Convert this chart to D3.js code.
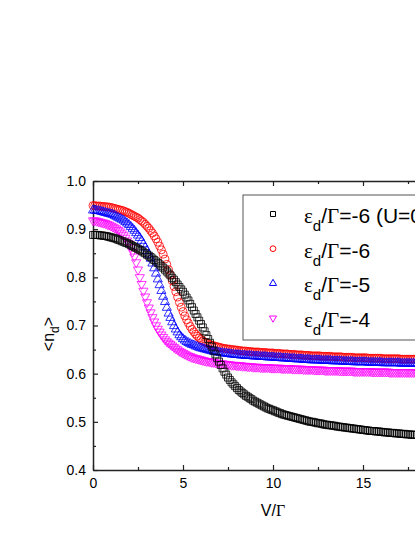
<!DOCTYPE html>
<html lang="en">

<head>
    <meta charset="UTF-8">
    <title>Occupation vs bias</title>
    <script src="https://cdnjs.cloudflare.com/ajax/libs/d3/7.8.5/d3.min.js"></script>
    <style>
        body { margin: 0; background: #fff; overflow: hidden; }
        svg { display: block; }
        .tick text { font-family: Arial, "Liberation Sans", sans-serif; font-size: 14px; fill: #000; }
        .domain { stroke: #222; stroke-width: 1.5px; }
        .tick line { stroke: #222; stroke-width: 1.2px; }
    </style>
</head>

<body>
    <svg id="chart" width="415" height="537"></svg>

    <script>
        // bias grid V/Gamma
        var vGrid = [0, 0.1, 0.2, 0.3, 0.4, 0.5, 0.6, 0.7, 0.8, 0.9,
            1, 1.1, 1.2, 1.3, 1.4, 1.5, 1.6, 1.7, 1.8, 1.9,
            2, 2.1, 2.2, 2.3, 2.4, 2.5, 2.6, 2.7, 2.8, 2.9,
            3, 3.1, 3.2, 3.3, 3.4, 3.5, 3.6, 3.7, 3.8, 3.9,
            4, 4.1, 4.2, 4.3, 4.4, 4.5, 4.6, 4.7, 4.8, 4.9,
            5, 5.1, 5.2, 5.3, 5.4, 5.5, 5.6, 5.7, 5.8, 5.9,
            6, 6.1, 6.2, 6.3, 6.4, 6.5, 6.6, 6.7, 6.8, 6.9,
            7, 7.1, 7.2, 7.3, 7.4, 7.5, 7.6, 7.7, 7.8, 7.9,
            8, 8.1, 8.2, 8.3, 8.4, 8.5, 8.6, 8.7, 8.8, 8.9,
            9, 9.1, 9.2, 9.3, 9.4, 9.5, 9.6, 9.7, 9.8, 9.9,
            10, 10.1, 10.2, 10.3, 10.4, 10.5, 10.6, 10.7, 10.8, 10.9,
            11, 11.1, 11.2, 11.3, 11.4, 11.5, 11.6, 11.7, 11.8, 11.9,
            12, 12.1, 12.2, 12.3, 12.4, 12.5, 12.6, 12.7, 12.8, 12.9,
            13, 13.1, 13.2, 13.3, 13.4, 13.5, 13.6, 13.7, 13.8, 13.9,
            14, 14.1, 14.2, 14.3, 14.4, 14.5, 14.6, 14.7, 14.8, 14.9,
            15, 15.1, 15.2, 15.3, 15.4, 15.5, 15.6, 15.7, 15.8, 15.9,
            16, 16.1, 16.2, 16.3, 16.4, 16.5, 16.6, 16.7, 16.8, 16.9,
            17, 17.1, 17.2, 17.3, 17.4, 17.5, 17.6, 17.7, 17.8, 17.9,
            18, 18.1, 18.2, 18.3, 18.4, 18.5, 18.6, 18.7, 18.8, 18.9,
            19, 19.1, 19.2, 19.3, 19.4, 19.5, 19.6, 19.7, 19.8, 19.9,
            20];

        // eps_d/Gamma = -6, U = 0
        var nU0 = [0.888, 0.888, 0.888, 0.888, 0.887, 0.887, 0.886, 0.886, 0.885, 0.884,
            0.883, 0.882, 0.881, 0.880, 0.878, 0.877, 0.875, 0.874, 0.872, 0.871,
            0.869, 0.867, 0.865, 0.863, 0.861, 0.859, 0.857, 0.855, 0.852, 0.850,
            0.847, 0.845, 0.842, 0.839, 0.836, 0.833, 0.830, 0.827, 0.823, 0.820,
            0.816, 0.812, 0.808, 0.804, 0.799, 0.795, 0.790, 0.785, 0.780, 0.775,
            0.770, 0.764, 0.758, 0.752, 0.745, 0.738, 0.731, 0.724, 0.717, 0.710,
            0.703, 0.696, 0.688, 0.680, 0.672, 0.664, 0.656, 0.648, 0.640, 0.632,
            0.625, 0.618, 0.611, 0.604, 0.598, 0.592, 0.587, 0.582, 0.578, 0.574,
            0.570, 0.566, 0.563, 0.560, 0.557, 0.554, 0.552, 0.549, 0.547, 0.544,
            0.542, 0.540, 0.538, 0.536, 0.534, 0.532, 0.530, 0.528, 0.527, 0.525,
            0.524, 0.522, 0.521, 0.519, 0.518, 0.516, 0.515, 0.514, 0.513, 0.512,
            0.511, 0.510, 0.509, 0.508, 0.507, 0.506, 0.505, 0.504, 0.503, 0.502,
            0.501, 0.500, 0.500, 0.499, 0.498, 0.497, 0.497, 0.496, 0.495, 0.494,
            0.494, 0.493, 0.493, 0.492, 0.492, 0.491, 0.490, 0.490, 0.489, 0.489,
            0.488, 0.488, 0.487, 0.487, 0.486, 0.486, 0.485, 0.485, 0.484, 0.484,
            0.483, 0.483, 0.482, 0.482, 0.481, 0.481, 0.481, 0.480, 0.480, 0.480,
            0.479, 0.479, 0.478, 0.478, 0.478, 0.477, 0.477, 0.477, 0.476, 0.476,
            0.476, 0.475, 0.475, 0.475, 0.474, 0.474, 0.474, 0.473, 0.473, 0.473,
            0.473, 0.472, 0.472, 0.472, 0.472, 0.471, 0.471, 0.471, 0.470, 0.470,
            0.470, 0.470, 0.469, 0.469, 0.469, 0.469, 0.468, 0.468, 0.468, 0.468,
            0.467];

        // eps_d/Gamma = -6
        var nE6 = [0.949, 0.949, 0.948, 0.948, 0.948, 0.947, 0.947, 0.947, 0.946, 0.946,
            0.945, 0.944, 0.943, 0.942, 0.941, 0.940, 0.939, 0.938, 0.936, 0.935,
            0.933, 0.931, 0.929, 0.927, 0.925, 0.923, 0.920, 0.917, 0.914, 0.910,
            0.906, 0.902, 0.897, 0.892, 0.886, 0.880, 0.873, 0.865, 0.857, 0.848,
            0.838, 0.827, 0.816, 0.805, 0.793, 0.781, 0.770, 0.759, 0.748, 0.738,
            0.729, 0.720, 0.712, 0.705, 0.698, 0.692, 0.687, 0.682, 0.678, 0.674,
            0.671, 0.668, 0.666, 0.664, 0.662, 0.660, 0.659, 0.658, 0.657, 0.656,
            0.655, 0.654, 0.653, 0.652, 0.652, 0.651, 0.651, 0.650, 0.650, 0.649,
            0.649, 0.648, 0.648, 0.647, 0.647, 0.647, 0.646, 0.646, 0.646, 0.645,
            0.645, 0.645, 0.645, 0.644, 0.644, 0.644, 0.644, 0.643, 0.643, 0.643,
            0.643, 0.642, 0.642, 0.642, 0.642, 0.641, 0.641, 0.641, 0.641, 0.640,
            0.640, 0.640, 0.640, 0.639, 0.639, 0.639, 0.639, 0.638, 0.638, 0.638,
            0.638, 0.637, 0.637, 0.637, 0.637, 0.637, 0.637, 0.636, 0.636, 0.636,
            0.636, 0.636, 0.636, 0.635, 0.635, 0.635, 0.635, 0.635, 0.635, 0.634,
            0.634, 0.634, 0.634, 0.634, 0.634, 0.633, 0.633, 0.633, 0.633, 0.633,
            0.633, 0.633, 0.633, 0.632, 0.632, 0.632, 0.632, 0.632, 0.632, 0.632,
            0.632, 0.631, 0.631, 0.631, 0.631, 0.631, 0.631, 0.631, 0.631, 0.631,
            0.631, 0.630, 0.630, 0.630, 0.630, 0.630, 0.630, 0.630, 0.630, 0.630,
            0.630, 0.629, 0.629, 0.629, 0.629, 0.629, 0.629, 0.629, 0.629, 0.629,
            0.629, 0.629, 0.629, 0.628, 0.628, 0.628, 0.628, 0.628, 0.628, 0.628,
            0.628];

        // eps_d/Gamma = -5
        var nE5 = [0.939, 0.939, 0.938, 0.938, 0.937, 0.936, 0.935, 0.934, 0.933, 0.932,
            0.931, 0.930, 0.928, 0.926, 0.924, 0.922, 0.920, 0.918, 0.915, 0.912,
            0.909, 0.905, 0.901, 0.897, 0.892, 0.887, 0.882, 0.876, 0.869, 0.862,
            0.855, 0.847, 0.839, 0.829, 0.819, 0.808, 0.796, 0.784, 0.772, 0.760,
            0.749, 0.737, 0.725, 0.716, 0.707, 0.699, 0.692, 0.686, 0.680, 0.676,
            0.672, 0.669, 0.666, 0.664, 0.662, 0.660, 0.659, 0.657, 0.656, 0.654,
            0.653, 0.652, 0.651, 0.650, 0.649, 0.648, 0.647, 0.646, 0.645, 0.645,
            0.644, 0.643, 0.643, 0.642, 0.642, 0.641, 0.641, 0.640, 0.640, 0.639,
            0.639, 0.639, 0.638, 0.638, 0.638, 0.637, 0.637, 0.637, 0.637, 0.636,
            0.636, 0.636, 0.636, 0.635, 0.635, 0.635, 0.635, 0.634, 0.634, 0.634,
            0.634, 0.633, 0.633, 0.633, 0.633, 0.632, 0.632, 0.632, 0.632, 0.631,
            0.631, 0.631, 0.631, 0.630, 0.630, 0.630, 0.630, 0.629, 0.629, 0.629,
            0.629, 0.628, 0.628, 0.628, 0.628, 0.628, 0.628, 0.627, 0.627, 0.627,
            0.627, 0.627, 0.627, 0.626, 0.626, 0.626, 0.626, 0.626, 0.626, 0.625,
            0.625, 0.625, 0.625, 0.625, 0.625, 0.624, 0.624, 0.624, 0.624, 0.624,
            0.624, 0.624, 0.624, 0.623, 0.623, 0.623, 0.623, 0.623, 0.623, 0.623,
            0.623, 0.622, 0.622, 0.622, 0.622, 0.622, 0.622, 0.622, 0.622, 0.622,
            0.622, 0.621, 0.621, 0.621, 0.621, 0.621, 0.621, 0.621, 0.621, 0.621,
            0.621, 0.620, 0.620, 0.620, 0.620, 0.620, 0.620, 0.620, 0.620, 0.620,
            0.620, 0.620, 0.620, 0.619, 0.619, 0.619, 0.619, 0.619, 0.619, 0.619,
            0.619];

        // eps_d/Gamma = -4
        var nE4 = [0.918, 0.918, 0.917, 0.916, 0.915, 0.914, 0.913, 0.912, 0.910, 0.909,
            0.907, 0.905, 0.903, 0.901, 0.898, 0.895, 0.891, 0.887, 0.882, 0.876,
            0.870, 0.862, 0.853, 0.843, 0.831, 0.816, 0.800, 0.786, 0.772, 0.760,
            0.748, 0.737, 0.727, 0.717, 0.708, 0.700, 0.693, 0.687, 0.681, 0.676,
            0.671, 0.667, 0.664, 0.661, 0.658, 0.655, 0.652, 0.650, 0.647, 0.645,
            0.643, 0.641, 0.639, 0.637, 0.636, 0.634, 0.633, 0.632, 0.631, 0.630,
            0.629, 0.628, 0.627, 0.626, 0.626, 0.625, 0.624, 0.624, 0.623, 0.622,
            0.622, 0.621, 0.621, 0.620, 0.620, 0.619, 0.619, 0.618, 0.618, 0.618,
            0.617, 0.617, 0.617, 0.616, 0.616, 0.616, 0.615, 0.615, 0.615, 0.614,
            0.614, 0.614, 0.614, 0.613, 0.613, 0.613, 0.613, 0.613, 0.613, 0.612,
            0.612, 0.612, 0.612, 0.612, 0.612, 0.611, 0.611, 0.611, 0.611, 0.611,
            0.611, 0.610, 0.610, 0.610, 0.610, 0.610, 0.610, 0.609, 0.609, 0.609,
            0.609, 0.609, 0.609, 0.608, 0.608, 0.608, 0.608, 0.608, 0.608, 0.607,
            0.607, 0.607, 0.607, 0.607, 0.607, 0.607, 0.607, 0.606, 0.606, 0.606,
            0.606, 0.606, 0.606, 0.606, 0.606, 0.605, 0.605, 0.605, 0.605, 0.605,
            0.605, 0.605, 0.605, 0.605, 0.605, 0.604, 0.604, 0.604, 0.604, 0.604,
            0.604, 0.604, 0.604, 0.604, 0.604, 0.603, 0.603, 0.603, 0.603, 0.603,
            0.603, 0.603, 0.603, 0.603, 0.603, 0.603, 0.603, 0.603, 0.603, 0.603,
            0.602, 0.602, 0.602, 0.602, 0.602, 0.602, 0.602, 0.602, 0.602, 0.602,
            0.602, 0.602, 0.601, 0.601, 0.601, 0.601, 0.601, 0.601, 0.601, 0.601,
            0.601];

        var xTicks = [0, 5, 10, 15, 20],
            xLabels = [0, 5, 10, 15],
            xMinor = [2.5, 7.5, 12.5, 17.5],
            yTicks = [0.4, 0.5, 0.6, 0.7, 0.8, 0.9, 1.0],
            yMinor = [0.45, 0.55, 0.65, 0.75, 0.85, 0.95],
            legendLabels = ["-6 (U=0)", "-6", "-5", "-4"];

        var svg = d3.select("#chart"),
            margin = { top: 181, right: -38, bottom: 67, left: 93 },
            width = +svg.attr("width") - margin.left - margin.right,
            height = +svg.attr("height") - margin.top - margin.bottom,
            g = svg.append("g").attr("transform", "translate(" + margin.left + "," + margin.top + ")"),
            serif = "'Liberation Serif', 'Times New Roman', serif",
            sans = "Arial, 'Liberation Sans', sans-serif";

        var x = d3.scaleLinear().domain([0, 20]).range([0, width]);
        var y = d3.scaleLinear().domain([0.4, 1.0]).range([height, 0]);

        // series: draw order keeps the black squares on top
        var series = [
            { values: nE6, color: "#ff0000", type: d3.symbolCircle, size: 50, rot: 0, legendSize: 26, row: 1 },
            { values: nE5, color: "#0000ff", type: d3.symbolTriangle, size: 36, rot: 0, legendSize: 22, row: 2 },
            { values: nE4, color: "#ff00ff", type: d3.symbolTriangle, size: 36, rot: 180, legendSize: 22, row: 3 },
            { values: nU0, color: "#000000", type: d3.symbolSquare, size: 49, rot: 0, legendSize: 25, row: 0 }
        ];

        // axes (ticks point inward)
        g.append("g")
            .attr("transform", "translate(0," + height + ")")
            .call(d3.axisBottom(x).tickValues(xTicks).tickSizeInner(-5).tickSizeOuter(0).tickPadding(8)
                .tickFormat(function (d) { return xLabels.indexOf(d) >= 0 ? d : ""; }));

        g.append("g")
            .attr("transform", "translate(0," + height + ")")
            .call(d3.axisBottom(x).tickValues(xMinor).tickSizeInner(-3).tickSizeOuter(0).tickFormat(""))
            .select(".domain").remove();

        g.append("g")
            .call(d3.axisTop(x).tickValues(xTicks).tickSizeInner(-5).tickSizeOuter(0).tickFormat(""));

        g.append("g")
            .call(d3.axisTop(x).tickValues(xMinor).tickSizeInner(-3).tickSizeOuter(0).tickFormat(""))
            .select(".domain").remove();

        g.append("g")
            .call(d3.axisLeft(y).tickValues(yTicks).tickSizeInner(-5).tickSizeOuter(0).tickPadding(7)
                .tickFormat(d3.format(".1f")));

        g.append("g")
            .call(d3.axisLeft(y).tickValues(yMinor).tickSizeInner(-3).tickSizeOuter(0).tickFormat(""))
            .select(".domain").remove();

        // markers
        series.forEach(function (s) {
            var sym = d3.symbol().type(s.type).size(s.size);
            g.append("g")
                .selectAll("path")
                .data(vGrid)
                .enter().append("path")
                .attr("d", sym)
                .attr("transform", function (d, i) {
                    return "translate(" + x(d) + "," + y(s.values[i]) + ") rotate(" + s.rot + ")";
                })
                .attr("fill", "none")
                .attr("stroke", s.color)
                .attr("stroke-width", 0.8);
        });

        // legend
        var legend = svg.append("g").attr("transform", "translate(243,195)");

        legend.append("rect")
            .attr("width", 230)
            .attr("height", 145)
            .attr("fill", "#fff")
            .attr("stroke", "#555")
            .attr("stroke-width", 1);

        series.forEach(function (s) {
            var row = legend.append("g")
                .attr("transform", "translate(0," + (19 + s.row * 34.7) + ")");

            row.append("path")
                .attr("d", d3.symbol().type(s.type).size(s.legendSize))
                .attr("transform", "translate(30,0) rotate(" + s.rot + ")")
                .attr("fill", "none")
                .attr("stroke", s.color)
                .attr("stroke-width", 1);

            var t = row.append("text")
                .attr("x", 61)
                .attr("y", 9)
                .attr("font-size", 21)
                .attr("font-family", sans)
                .attr("fill", "#000");
            t.append("tspan").attr("font-family", serif).text("\u03b5");
            t.append("tspan").attr("font-size", 15).attr("dy", 8).text("d");
            t.append("tspan").attr("dy", -8).text("/");
            t.append("tspan").attr("font-family", serif).text("\u0393");
            t.append("tspan").text("=" + legendLabels[s.row]);
        });

        // axis titles
        var xt = svg.append("text")
            .attr("x", margin.left + width / 2)
            .attr("y", 516)
            .attr("text-anchor", "middle")
            .attr("font-size", 16)
            .attr("font-family", sans);
        xt.append("tspan").text("V/");
        xt.append("tspan").attr("font-family", serif).text("\u0393");

        var yt = svg.append("text")
            .attr("transform", "translate(54,334) rotate(-90)")
            .attr("text-anchor", "middle")
            .attr("font-size", 16)
            .attr("font-family", sans);
        yt.append("tspan").text("<n");
        yt.append("tspan").attr("font-size", 12).attr("dy", 5).text("d");
        yt.append("tspan").attr("dy", -5).text(">");
    </script>
</body>

</html>
